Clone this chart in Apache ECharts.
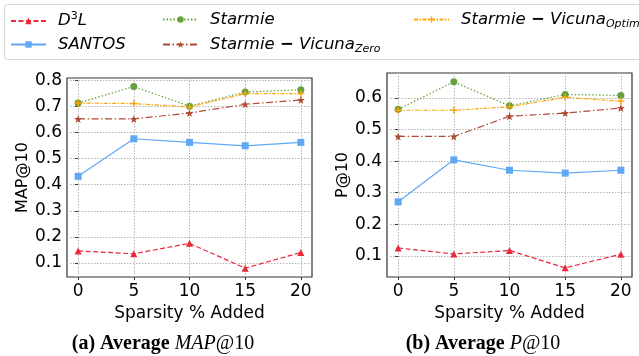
<!DOCTYPE html>
<html>
<head>
  <meta charset="utf-8">
</head>
<body style="margin: 0">
  <div id="container" style="width: 639px; height: 356px"></div>
  <script src="https://cdn.jsdelivr.net/npm/echarts@6/dist/echarts.min.js"></script>
  <script>
    // data
    var sparsity = [0, 5, 10, 15, 20];
    var names = ['D3L', 'SANTOS', 'Starmie', 'Starmie-Vicuna Zero', 'Starmie-Vicuna Optim'];

    var mapD3L = [0.146, 0.135, 0.175, 0.080, 0.140];
    var mapSantos = [0.432, 0.576, 0.562, 0.549, 0.562];
    var mapStarmie = [0.713, 0.776, 0.701, 0.755, 0.764];
    var mapZero = [0.652, 0.652, 0.675, 0.708, 0.725];
    var mapOptim = [0.713, 0.711, 0.698, 0.749, 0.749];

    var pD3L = [0.125, 0.106, 0.117, 0.062, 0.105];
    var pSantos = [0.271, 0.404, 0.371, 0.362, 0.371];
    var pStarmie = [0.564, 0.651, 0.575, 0.611, 0.608];
    var pZero = [0.478, 0.478, 0.542, 0.552, 0.568];
    var pOptim = [0.561, 0.561, 0.572, 0.602, 0.590];

    var xTicks = [0, 5, 10, 15, 20];
    var mapTicks = [0.1, 0.2, 0.3, 0.4, 0.5, 0.6, 0.7, 0.8];
    var pTicks = [0.1, 0.2, 0.3, 0.4, 0.5, 0.6];

    var dom = document.getElementById('container');
    var myChart = echarts.init(dom, null, { renderer: 'canvas' });

    var FONT = 'DejaVu Sans';
    var starPath = 'path://M0,-10L2.35,-3.24L9.51,-3.09L3.8,1.24L5.88,8.09L0,4L-5.88,8.09L-3.8,1.24L-9.51,-3.09L-2.35,-3.24Z';
    var plusPath = 'path://M-1,-5H1V-1H5V1H1V5H-1V1H-5V-1H-1Z';

    var styles = [
      { color: '#e8283c', type: [5, 2.5], symbol: 'triangle', size: 7 },
      { color: '#5fa8f6', type: 'solid', symbol: 'rect', size: 7 },
      { color: '#67a03c', type: [1.5, 2], symbol: 'circle', size: 7 },
      { color: '#b24a32', type: [7, 2.5, 1.5, 2.5], symbol: starPath, size: 8 },
      { color: '#ffa50a', type: [4, 1.5, 1.5, 1.5], symbol: plusPath, size: 7 }
    ];

    function pairs(vals) {
      return vals.map(function (v, i) { return [sparsity[i], v]; });
    }

    function makeSeries(idx, vals, axis) {
      var s = styles[idx];
      return {
        name: names[idx],
        type: 'line',
        xAxisIndex: axis,
        yAxisIndex: axis,
        data: pairs(vals),
        symbol: s.symbol,
        symbolSize: s.size,
        itemStyle: { color: s.color },
        lineStyle: { color: s.color, width: 1.2, type: s.type },
        emphasis: { disabled: true },
        animation: false
      };
    }

    function xAxisFor(grid) {
      return {
        type: 'value', gridIndex: grid, min: -1, max: 21,
        name: 'Sparsity % Added', nameLocation: 'middle', nameGap: 28,
        nameTextStyle: { fontFamily: FONT, fontSize: 17, color: '#000' },
        axisLine: { show: false },
        axisTick: { show: true, length: 3, lineStyle: { color: '#333' }, customValues: xTicks },
        axisLabel: { fontFamily: FONT, fontSize: 17, color: '#000', margin: 6, customValues: xTicks },
        splitLine: { show: true, lineStyle: { color: '#b5b5b5', type: [1.5, 1.5], width: 1 } }
      };
    }

    function yAxisFor(grid, min, max, ticks, title) {
      return {
        type: 'value', gridIndex: grid, min: min, max: max,
        name: title, nameLocation: 'middle', nameGap: 33,
        nameTextStyle: { fontFamily: FONT, fontSize: 16, color: '#000' },
        axisLine: { show: false },
        axisTick: { show: true, length: 3, lineStyle: { color: '#333' }, customValues: ticks },
        axisLabel: { fontFamily: FONT, fontSize: 17, color: '#000', margin: 5, customValues: ticks,
          formatter: function (v) { return v.toFixed(1); } },
        splitLine: { show: true, lineStyle: { color: '#b5b5b5', type: [1.5, 1.5], width: 1 } }
      };
    }

    var LF = 16.5;
    var legendRich = {
      g: { width: 7 },
      i: { fontFamily: FONT, fontStyle: 'italic', fontSize: LF, color: '#000', lineHeight: 20 },
      m: { fontFamily: FONT, fontSize: LF, fontWeight: 'bold', color: '#000', lineHeight: 20 },
      sub: { fontFamily: FONT, fontStyle: 'italic', fontSize: 11, color: '#000', lineHeight: 6, verticalAlign: 'bottom' },
      sup: { fontFamily: FONT, fontSize: 11, color: '#000', lineHeight: 10, verticalAlign: 'top' }
    };

    function legendLabel(name) {
      if (name === 'D3L') return '{g|}{i|D}{sup|3}{i|L}';
      if (name === 'Starmie-Vicuna Zero') return '{g|}{i|Starmie }{m|−}{i| Vicuna}{sub|Zero}';
      if (name === 'Starmie-Vicuna Optim') return '{g|}{i|Starmie }{m|−}{i| Vicuna}{sub|Optim}';
      return '{g|}{i|' + name + '}';
    }

    function legendAt(idx, left, centerY) {
      return {
        data: [names[idx]], left: left, top: centerY - 10, padding: 0,
        itemWidth: 35, itemHeight: 8, itemGap: 0,
        selectedMode: false,
        formatter: legendLabel,
        textStyle: { rich: legendRich, fontFamily: FONT, fontSize: LF }
      };
    }

    var capRich = {
      b: { fontFamily: 'Liberation Serif', fontWeight: 'bold', fontSize: 20, fill: '#000' },
      it: { fontFamily: 'Liberation Serif', fontStyle: 'italic', fontSize: 20, fill: '#000' },
      r: { fontFamily: 'Liberation Serif', fontSize: 20, fill: '#000' }
    };

    var option = {
      backgroundColor: '#fff',
      animation: false,
      legend: [
        legendAt(0, 10, 21),
        legendAt(1, 10, 46),
        legendAt(2, 162, 21),
        legendAt(3, 162, 46),
        legendAt(4, 413, 21)
      ],
      graphic: [
        { type: 'rect', shape: { x: 4.5, y: 4.5, width: 650, height: 55, r: 3 },
          style: { fill: 'none', stroke: '#d8d8d8', lineWidth: 1 }, z: -1 },
        { type: 'text', x: 163, y: 344,
          style: { text: '{b|(a) Average }{it|MAP}{r|@10}', align: 'center', verticalAlign: 'middle', rich: capRich } },
        { type: 'text', x: 483, y: 344,
          style: { text: '{b|(b) Average }{it|P}{r|@10}', align: 'center', verticalAlign: 'middle', rich: capRich } }
      ],
      grid: [
        { left: 67, width: 245, top: 78, height: 199, show: true, borderColor: '#333', borderWidth: 1.2,
          containLabel: false, outerBoundsMode: 'none' },
        { left: 387, width: 245, top: 73, height: 204, show: true, borderColor: '#333', borderWidth: 1.2,
          containLabel: false, outerBoundsMode: 'none' }
      ],
      xAxis: [xAxisFor(0), xAxisFor(1)],
      yAxis: [
        yAxisFor(0, 0.046, 0.809, mapTicks, 'MAP@10'),
        yAxisFor(1, 0.033, 0.679, pTicks, 'P@10')
      ],
      series: [
        makeSeries(0, mapD3L, 0), makeSeries(1, mapSantos, 0), makeSeries(2, mapStarmie, 0),
        makeSeries(3, mapZero, 0), makeSeries(4, mapOptim, 0),
        makeSeries(0, pD3L, 1), makeSeries(1, pSantos, 1), makeSeries(2, pStarmie, 1),
        makeSeries(3, pZero, 1), makeSeries(4, pOptim, 1)
      ]
    };

    myChart.setOption(option);
    window.addEventListener('resize', myChart.resize);
  </script>
</body>
</html>
